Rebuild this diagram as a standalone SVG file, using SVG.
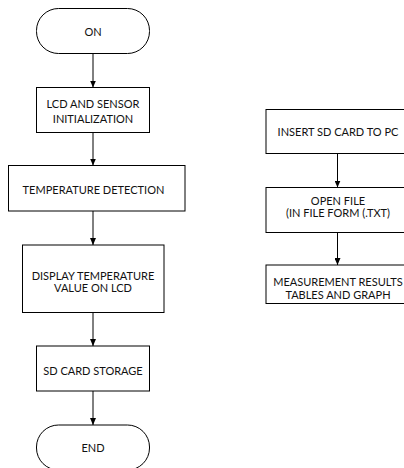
<svg xmlns="http://www.w3.org/2000/svg" width="404" height="468" viewBox="0 0 404 468">
<style>
.n{fill:#fff;stroke:#000;stroke-width:1}
.t{font-family:Lato,"Liberation Sans",sans-serif;font-size:11px;fill:#111;text-anchor:middle;dominant-baseline:central}
.c{stroke:#000;stroke-width:1;fill:none;marker-end:url(#a)}
</style>
<defs>
<marker id="a" markerWidth="8" markerHeight="6" refX="7" refY="3" orient="auto" markerUnits="userSpaceOnUse">
<path d="M0,0 L7,3 L0,6 Z" fill="#000"/>
</marker>
</defs>
<rect width="404" height="468" fill="#fff"/>
<g id="connectors">
<line class="c" x1="93" y1="53.5" x2="93" y2="87.5"/>
<line class="c" x1="93" y1="132.5" x2="93" y2="165.5"/>
<line class="c" x1="93" y1="211" x2="93" y2="245"/>
<line class="c" x1="93" y1="312.5" x2="93" y2="346"/>
<line class="c" x1="93" y1="391" x2="93" y2="425"/>
<line class="c" x1="337.5" y1="153.5" x2="337.5" y2="187.5"/>
<line class="c" x1="337.5" y1="232.5" x2="337.5" y2="265"/>
</g>
<g id="on"><rect class="n" x="36.5" y="8.5" width="113" height="45" rx="22" ry="22"/><text class="t" x="93" y="31.5">ON</text></g>
<g id="init"><rect class="n" x="36.5" y="87.5" width="113" height="45"/><text class="t" x="93" y="103">LCD AND SENSOR</text><text class="t" x="93" y="118">INITIALIZATION</text></g>
<g id="detect"><rect class="n" x="8.5" y="165.5" width="176.5" height="45.5"/><text class="t" x="93.5" y="189">TEMPERATURE DETECTION</text></g>
<g id="display"><rect class="n" x="22.5" y="245" width="141.5" height="67.5"/><text class="t" x="93" y="275">DISPLAY TEMPERATURE</text><text class="t" x="93" y="287.5">VALUE ON LCD</text></g>
<g id="sd"><rect class="n" x="36.5" y="346" width="113" height="45"/><text class="t" x="93" y="370">SD CARD STORAGE</text></g>
<g id="end"><rect class="n" x="36.5" y="425" width="113" height="45" rx="22" ry="22"/><text class="t" x="93" y="447">END</text></g>
<g id="insert"><rect class="n" x="266" y="109.5" width="142" height="44"/><text class="t" x="338" y="131.5">INSERT SD CARD TO PC</text></g>
<g id="open"><rect class="n" x="266" y="187.5" width="142" height="45"/><text class="t" x="338" y="200.5">OPEN FILE</text><text class="t" x="338" y="212.5">(IN FILE FORM (.TXT)</text></g>
<g id="results"><rect class="n" x="266" y="265" width="142" height="38.5"/><text class="t" x="338" y="281.5">MEASUREMENT RESULTS</text><text class="t" x="338" y="294">TABLES AND GRAPH</text></g>
</svg>
